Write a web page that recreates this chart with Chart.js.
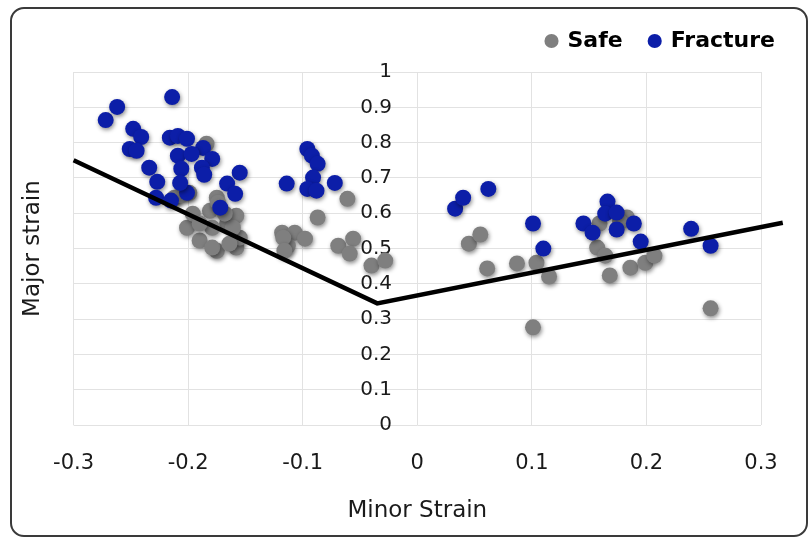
<!DOCTYPE html>
<html>
<head>
<meta charset="utf-8">
<script src="https://cdn.jsdelivr.net/npm/chart.js@4.4.1/dist/chart.umd.min.js"></script>
<style>
  html, body { margin: 0; padding: 0; background: #fff; }
  #wrap { position: relative; width: 811px; height: 537px; overflow: hidden; }
  #frame { position: absolute; left: 10px; top: 7px; width: 798px; height: 530px;
           border: 2px solid #3a3a3a; border-radius: 14px; box-sizing: border-box; }
  canvas { position: absolute; left: 0; top: 0; }
</style>
</head>
<body>
<div id="wrap">
  <div id="frame"></div>
  <canvas id="fld" width="811" height="537"></canvas>
</div>
<script>
// Forming limit data - minor strain (x) vs major strain (y)
const safeX = [-0.212, -0.199, -0.175, -0.184, -0.201, -0.190, -0.175, -0.158, -0.155, -0.166,
               -0.181, -0.179, -0.196, -0.158, -0.190, -0.161, -0.179, -0.164, -0.168, -0.207,
               -0.174, -0.061, -0.087, -0.118, -0.107, -0.098, -0.113, -0.117, -0.069, -0.056,
               -0.059, -0.040, -0.028, -0.116, 0.045, 0.055, 0.061, 0.087, 0.104, 0.115,
               0.101, 0.159, 0.183, 0.157, 0.164, 0.168, 0.186, 0.199, 0.207, 0.256, 0.177];
const safeY = [0.644, 0.658, 0.644, 0.797, 0.559, 0.523, 0.494, 0.503, 0.531, 0.571,
               0.607, 0.559, 0.599, 0.593, 0.571, 0.559, 0.503, 0.514, 0.599, 0.650,
               0.630, 0.641, 0.588, 0.545, 0.545, 0.528, 0.508, 0.531, 0.508, 0.528,
               0.486, 0.452, 0.466, 0.494, 0.514, 0.540, 0.444, 0.458, 0.460, 0.421,
               0.277, 0.571, 0.588, 0.503, 0.480, 0.424, 0.446, 0.460, 0.480, 0.331, 0.576];

const fractureX = [-0.272, -0.262, -0.214, -0.248, -0.241, -0.251, -0.245, -0.234, -0.227, -0.228,
                   -0.215, -0.216, -0.209, -0.201, -0.187, -0.209, -0.197, -0.179, -0.206, -0.188,
                   -0.186, -0.155, -0.166, -0.159, -0.201, -0.172, -0.207, -0.096, -0.092, -0.087,
                   -0.091, -0.114, -0.072, -0.096, -0.088, 0.033, 0.040, 0.062, 0.101, 0.110,
                   0.145, 0.153, 0.166, 0.164, 0.174, 0.174, 0.189, 0.195, 0.239, 0.256];
const fractureY = [0.864, 0.901, 0.929, 0.839, 0.816, 0.782, 0.777, 0.729, 0.689, 0.644,
                   0.636, 0.814, 0.819, 0.811, 0.785, 0.763, 0.768, 0.754, 0.726, 0.729,
                   0.709, 0.715, 0.684, 0.655, 0.658, 0.616, 0.686, 0.782, 0.763, 0.740,
                   0.701, 0.684, 0.686, 0.669, 0.664, 0.613, 0.644, 0.669, 0.571, 0.500,
                   0.571, 0.545, 0.633, 0.599, 0.602, 0.554, 0.571, 0.520, 0.556, 0.508];

// forming limit curve (V shape)
const limitX = [-0.3, -0.035, 0.319];
const limitY = [0.75, 0.345, 0.573];

const toPts = (xs, ys) => xs.map((x, i) => ({ x: x, y: ys[i] }));

const TEXT = '#1a1a1a';
const GRID = '#e2e2e2';

// soft drop shadow under the markers, like the office chart
const dotShadow = {
  id: 'dotShadow',
  beforeDatasetDraw(chart, args) {
    if (args.meta.type !== 'scatter') return;
    const c = chart.ctx;
    c.save();
    c.shadowColor = 'rgba(0,0,0,0.45)';
    c.shadowBlur = 4;
    c.shadowOffsetX = 1;
    c.shadowOffsetY = 2;
  },
  afterDatasetDraw(chart, args) {
    if (args.meta.type !== 'scatter') return;
    chart.ctx.restore();
  }
};

// empty spacer axes: keep legend at the frame corner but plot area where it belongs
const spacer = (pos, size) => ({
  type: 'linear',
  position: pos,
  display: true,
  ticks: { display: false },
  grid: { display: false },
  border: { display: false },
  afterFit: (s) => {
    if (pos === 'top') s.height = size; else s.width = size;
  }
});

new Chart(document.getElementById('fld'), {
  type: 'scatter',
  data: {
    datasets: [
      {
        label: 'Safe',
        data: toPts(safeX, safeY),
        xAxisID: 'x',
        yAxisID: 'y',
        backgroundColor: '#7f7f7f',
        borderColor: '#7f7f7f',
        borderWidth: 0,
        pointRadius: 8,
        order: 3
      },
      {
        label: 'Fracture',
        data: toPts(fractureX, fractureY),
        xAxisID: 'x',
        yAxisID: 'y',
        backgroundColor: '#0c1ea8',
        borderColor: '#0c1ea8',
        borderWidth: 0,
        pointRadius: 8,
        order: 2
      },
      {
        type: 'line',
        label: 'limit',
        data: toPts(limitX, limitY),
        xAxisID: 'x',
        yAxisID: 'y',
        borderColor: '#000',
        borderWidth: 4.5,
        pointRadius: 0,
        fill: false,
        clip: false,
        order: 1
      }
    ]
  },
  options: {
    responsive: false,
    animation: false,
    layout: { padding: { top: 3, left: 19, right: 9, bottom: 8 } },
    plugins: {
      tooltip: { enabled: false },
      legend: {
        position: 'top',
        align: 'end',
        labels: {
          filter: (item) => item.text !== 'limit',
          sort: (a, b) => a.datasetIndex - b.datasetIndex,
          usePointStyle: true,
          pointStyle: 'circle',
          boxWidth: 10,
          boxHeight: 10,
          padding: 27,
          color: '#000',
          font: { family: 'DejaVu Sans', size: 22, weight: 'bold' }
        }
      }
    },
    scales: {
      x: {
        type: 'linear',
        min: -0.3,
        max: 0.3,
        ticks: {
          stepSize: 0.1,
          padding: 26,
          color: TEXT,
          font: { family: 'DejaVu Sans', size: 21 },
          callback: (v) => String(+v.toFixed(1))
        },
        grid: { color: GRID, drawTicks: false },
        border: { display: false },
        title: {
          display: true,
          text: 'Minor Strain',
          color: TEXT,
          font: { family: 'DejaVu Sans', size: 23 },
          padding: { top: -5, bottom: 4 }
        }
      },
      xTop: spacer('top', 10),
      yRight: spacer('right', 41),
      yTitle: {
        type: 'linear',
        position: 'left',
        min: 0,
        max: 1,
        ticks: { display: false },
        grid: { display: false },
        border: { display: false },
        title: {
          display: true,
          text: 'Major strain',
          color: TEXT,
          font: { family: 'DejaVu Sans', size: 23 },
          padding: { top: 0, bottom: 19 }
        }
      },
      y: {
        type: 'linear',
        position: { x: -0.022 },
        min: 0,
        max: 1,
        ticks: {
          stepSize: 0.1,
          color: TEXT,
          font: { family: 'DejaVu Sans', size: 20 },
          callback: (v) => String(+v.toFixed(1))
        },
        grid: { color: GRID, drawTicks: false },
        border: { display: false }
      }
    }
  },
  plugins: [dotShadow]
});
</script>
</body>
</html>
